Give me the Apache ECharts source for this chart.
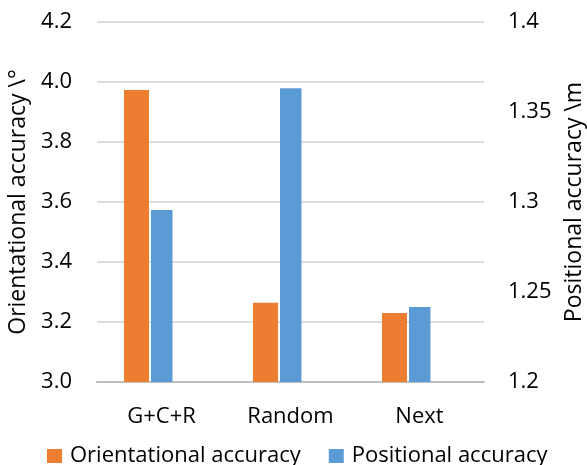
<!DOCTYPE html>
<html>
<head>
<meta charset="utf-8">
<script src="https://cdn.jsdelivr.net/npm/echarts@6/dist/echarts.min.js"></script>
<style>
  html, body { margin: 0; padding: 0; background: #fff; overflow: hidden; }
  #chart { width: 587px; height: 465px; }
</style>
</head>
<body>
<div id="chart"></div>
<script>
// Methods compared
const categories = ['G+C+R', 'Random', 'Next'];
// Orientational accuracy in degrees (left axis)
const orientational = [3.973, 3.264, 3.230];
// Positional accuracy in metres (right axis)
const positional = [1.2956, 1.3632, 1.2417];

const FONT = 'Open Sans';
const TEXT = '#000000';

const chart = echarts.init(document.getElementById('chart'), null, { renderer: 'canvas' });

chart.setOption({
  animation: false,
  backgroundColor: '#ffffff',
  textStyle: { fontFamily: FONT, color: TEXT },
  grid: {
    left: 97, right: 103, top: 22, bottom: 83,
    containLabel: false,
    outerBoundsMode: 'none'
  },
  legend: {
    data: ['Orientational accuracy', 'Positional accuracy'],
    left: 47,
    top: 445,
    padding: 0,
    itemWidth: 15,
    itemHeight: 14,
    itemGap: 28,
    icon: 'rect',
    textStyle: { fontFamily: FONT, fontSize: 22, color: TEXT, padding: [0, 0, 0, 3] }
  },
  xAxis: {
    type: 'category',
    data: categories,
    axisTick: { show: false },
    axisLine: { lineStyle: { color: '#bfbfbf', width: 2 } },
    axisLabel: { fontFamily: FONT, fontSize: 22, color: TEXT, margin: 24 }
  },
  yAxis: [
    {
      type: 'value',
      min: 3.0,
      max: 4.2,
      interval: 0.2,
      position: 'left',
      name: 'Orientational accuracy \\°',
      nameLocation: 'middle',
      nameGap: 62,
      nameTextStyle: { fontFamily: FONT, fontSize: 23, color: TEXT },
      axisLine: { show: false },
      axisTick: { show: false },
      axisLabel: {
        fontFamily: FONT, fontSize: 22, color: TEXT, margin: 25,
        formatter: v => v.toFixed(1)
      },
      splitLine: { lineStyle: { color: '#d0d0d0', width: 1.5 } }
    },
    {
      type: 'value',
      min: 1.2,
      max: 1.4,
      interval: 0.05,
      position: 'right',
      name: 'Positional accuracy \\m',
      nameLocation: 'middle',
      nameGap: 79,
      nameRotate: 90,
      nameTextStyle: { fontFamily: FONT, fontSize: 23, color: TEXT },
      axisLine: { show: false },
      axisTick: { show: false },
      axisLabel: {
        fontFamily: FONT, fontSize: 22, color: TEXT, margin: 24,
        formatter: v => String(Math.round(v * 100) / 100)
      },
      splitLine: { show: false }
    }
  ],
  series: [
    {
      name: 'Orientational accuracy',
      type: 'bar',
      yAxisIndex: 0,
      data: orientational,
      barWidth: 25,
      barGap: '8%',
      itemStyle: { color: '#ED7D31' }
    },
    {
      name: 'Positional accuracy',
      type: 'bar',
      yAxisIndex: 1,
      data: positional,
      barWidth: 21.5,
      barGap: '8%',
      itemStyle: { color: '#5B9BD5' }
    },
    {
      // empty slot that keeps the pair left of each category centre
      name: 'spacer',
      type: 'bar',
      yAxisIndex: 0,
      data: categories.map(() => null),
      barWidth: 24.8,
      silent: true
    }
  ]
});
</script>
</body>
</html>
